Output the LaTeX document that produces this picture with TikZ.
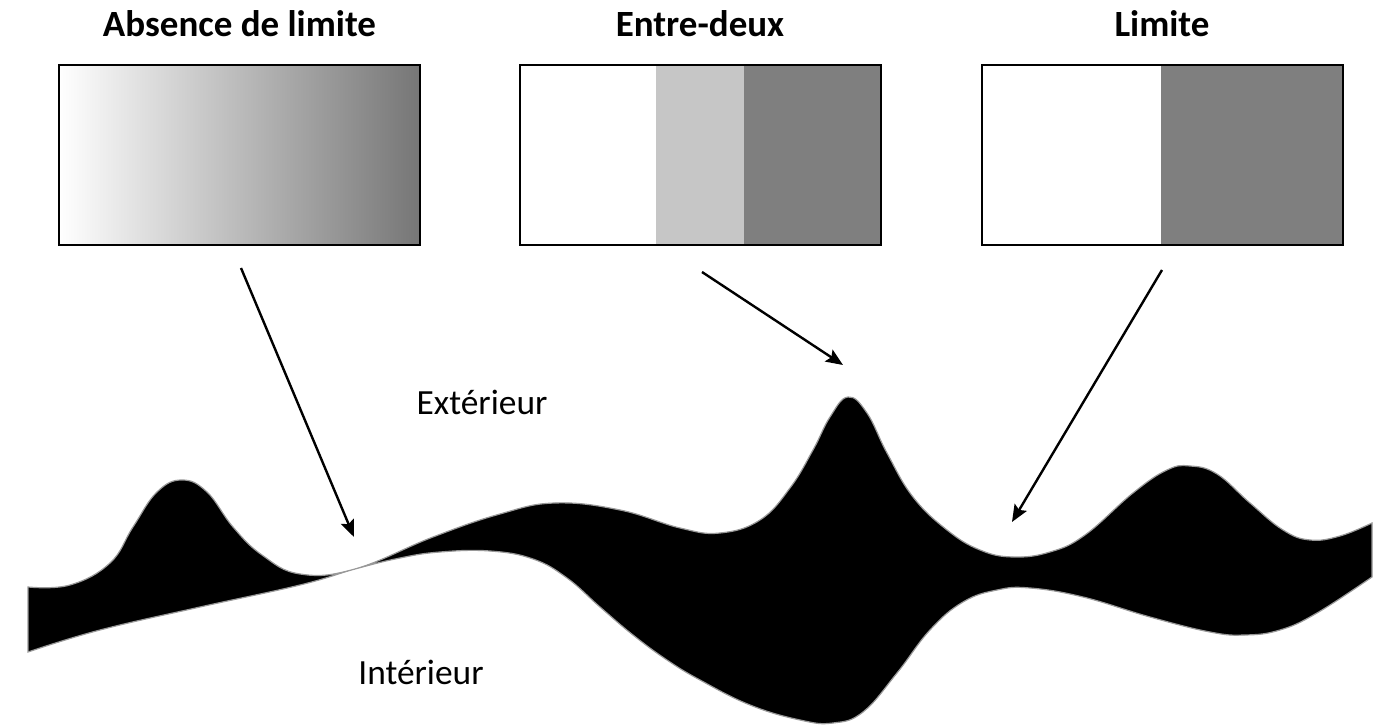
\documentclass[tikz,border=0pt]{standalone}
\usepackage{fontspec}
\setmainfont{Carlito}
\usetikzlibrary{arrows.meta,calc}
\definecolor{lightg}{HTML}{C6C6C6}
\definecolor{darkg}{HTML}{7F7F7F}
\definecolor{gradend}{HTML}{767676}
\tikzset{
  panel/.style={draw=black, line width=1pt, minimum width=180.5pt, minimum height=90pt, inner sep=0pt},
  title/.style={font=\fontsize{18.5}{21}\selectfont\bfseries, anchor=base},
  lbl/.style={font=\fontsize{17.7}{20}\selectfont, anchor=base},
  pointer/.style={line width=1.2pt, -{Stealth[length=8.5pt,width=7pt,inset=1.5pt]}},
  band/.style={fill=black, draw=gray!80, line width=0.6pt}
}
\begin{document}
\begin{tikzpicture}[x=0.5pt,y=-0.5pt]
\useasboundingbox (0,0) rectangle (1389,726);
% panel 1: gradient
\node[panel, shading=axis, left color=white, right color=gradend] (p1) at (239.5,155) {};
% panel 2
\fill[lightg] (656,65) rectangle (744,245);
\fill[darkg] (744,65) rectangle (880,245);
\node[panel] (p2) at (700,155) {};
% panel 3
\fill[darkg] (1161,65) rectangle (1342,245);
\node[panel] (p3) at (1162,155) {};
% titles
\node[title] (t1) at (239.5,37) {Absence de limite};
\node[title] (t2) at (700,37) {Entre-deux};
\node[title] (t3) at (1162,37) {Limite};
% band
\draw[band] plot[smooth, tension=0.7] coordinates {
 (28,587) (70,585) (110,563) (133,527) (157,492) (182,480) (207,492)
 (233,527) (262,555) (300,574) (355,569) (433,537) (500,514)
 (555,503) (620,510) (680,528) (720,533) (760,520) (790,488) (813,450)
 (830,417) (848,397) (867,413) (887,453) (913,497) (947,530) (980,550) (1013,557)
 (1050,552) (1085,535) (1133,493) (1167,470) (1190,466) (1217,474)
 (1250,503) (1283,530) (1310,540) (1340,536) (1372,523)}
 -- plot[smooth, tension=0.7] coordinates {
 (1372,577) (1317,613) (1280,630) (1245,635) (1210,632) (1150,617) (1083,597)
 (1030,588) (997,590) (963,602) (930,630) (897,673) (863,712) (833,723) (800,720)
 (750,705) (700,680) (667,660) (633,635) (600,607) (567,578) (533,559)
 (490,551) (440,552) (400,558) (355,569) (300,585) (200,607)
 (100,630) (28,652)} -- cycle;
% labels
\node[lbl] (ext) at (482,415) {Extérieur};
\node[lbl] (int) at (421,685) {Intérieur};
% arrows
\coordinate (s1) at (241,268); \coordinate (e1) at (354,537);
\coordinate (s2) at (702,272); \coordinate (e2) at (843,365);
\coordinate (s3) at (1162,270); \coordinate (e3) at (1012,522);
\draw[pointer] (s1) -- (e1);
\draw[pointer] (s2) -- (e2);
\draw[pointer] (s3) -- (e3);
\end{tikzpicture}
\end{document}
